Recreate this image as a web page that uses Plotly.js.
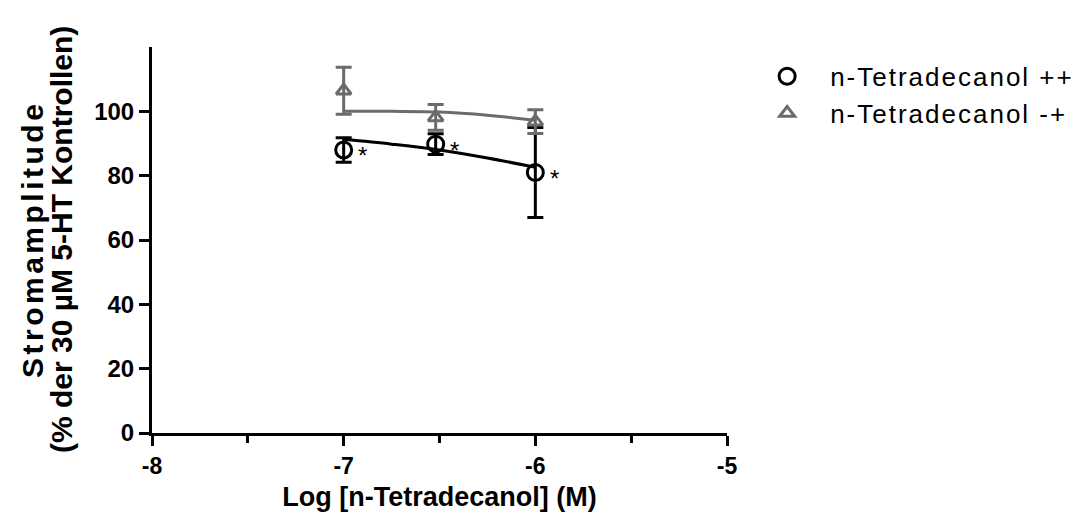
<!DOCTYPE html>
<html>
<head>
<meta charset="utf-8">
<script src="https://cdn.plot.ly/plotly-3.0.1.min.js"></script>
<style>html,body{margin:0;padding:0;background:#fff;}#chart{width:1090px;height:527px;}</style>
</head>
<body>
<div id="chart"></div>
<script>
// Data points (log concentration, M)
const logConc = [-7, -6.52, -6];
const ppMean = [88, 89.8, 81];
const ppErr = [3.8, 3.2, 14];
const pmMean = [106.4, 98.1, 96.8];
const pmErr = [7.3, 4, 3.7];
// Fitted curves
const curveX = [-7, -6.75, -6.5, -6.25, -6];
const ppCurve = [91.3, 89.8, 88, 85.5, 82.6];
const pmCurve = [100, 100, 99.8, 98.8, 97.2];
const seriesNames = ['n-Tetradecanol ++', 'n-Tetradecanol -+'];
const yTitleLines = ['Stromamplitude', '(% der 30 µM 5-HT Kontrollen)'];
const xTitle = 'Log [n-Tetradecanol] (M)';
const xTicks = [-8, -7, -6, -5];
const yTicks = [0, 20, 40, 60, 80, 100];

const black = '#000000';
const gray = '#6b6b6b';
const font = 'Liberation Sans, Arial, sans-serif';
const spaced = (t, px) => '<span style="letter-spacing:' + px + 'px">' + t + '</span>';

const traces = [
  {x: curveX, y: pmCurve, mode: 'lines', line: {color: gray, width: 3, shape: 'spline'}, showlegend: false, hoverinfo: 'skip'},
  {x: curveX, y: ppCurve, mode: 'lines', line: {color: black, width: 3, shape: 'spline'}, showlegend: false, hoverinfo: 'skip'},
  {x: logConc, y: ppMean, name: spaced(seriesNames[0], 2), mode: 'markers',
   marker: {symbol: 'circle-open', size: 16, color: black, line: {width: 3, color: black}},
   error_y: {type: 'data', array: ppErr, visible: true, color: black, thickness: 3, width: 8}},
  {x: logConc, y: pmMean, name: spaced(seriesNames[1], 2), mode: 'markers',
   marker: {symbol: 'triangle-up-open', size: 13, color: gray, line: {width: 3, color: gray}},
   error_y: {type: 'data', array: pmErr, visible: true, color: gray, thickness: 3, width: 8}}
];

const annotations = logConc.map((x, i) => ({
  x: x, y: ppMean[i], xref: 'x', yref: 'y', text: '*', showarrow: false,
  xshift: 19, yshift: -6, font: {family: font, size: 24, color: black}
}));
// Two-line y-axis title as rotated annotations
annotations.push({
  xref: 'paper', yref: 'paper', x: 0, y: 0.5, xanchor: 'center', yanchor: 'middle',
  xshift: -120, textangle: -90, showarrow: false, text: '<b>' + spaced(yTitleLines[0], 3.5) + '</b>',
  font: {family: font, size: 30, color: '#000'}
});
annotations.push({
  xref: 'paper', yref: 'paper', x: 0, y: 0.5, xanchor: 'center', yanchor: 'middle',
  xshift: -91, textangle: -90, showarrow: false, text: '<b>' + yTitleLines[1] + '</b>',
  font: {family: font, size: 30, color: '#000'}
});

const layout = {
  width: 1090, height: 527,
  margin: {l: 152, r: 362, t: 47, b: 94},
  paper_bgcolor: '#fff', plot_bgcolor: '#fff',
  font: {family: font, color: '#000'},
  showlegend: true,
  legend: {x: 1.028, y: 0.985, xanchor: 'left', yanchor: 'top', xref: 'paper',
           font: {family: font, size: 26, color: '#000'}, bgcolor: 'rgba(0,0,0,0)', itemwidth: 76},
  xaxis: {
    range: [-8, -5], tickvals: xTicks, ticktext: xTicks.map(String),
    showgrid: false, zeroline: false, showline: true, linecolor: '#000', linewidth: 3,
    ticks: 'outside', ticklen: 10, tickwidth: 3, tickcolor: '#000',
    minor: {dtick: 0.5, ticks: 'outside', ticklen: 7, tickwidth: 3, tickcolor: '#000', showgrid: false},
    tickfont: {family: font, size: 23, color: '#000', weight: 'bold'},
    title: {text: '<b>' + xTitle + '</b>', font: {family: font, size: 27, color: '#000'}, standoff: 10}
  },
  yaxis: {
    range: [0, 120], tickvals: yTicks, ticktext: yTicks.map(String),
    showgrid: false, zeroline: false, showline: true, linecolor: '#000', linewidth: 3,
    ticks: 'outside', ticklen: 10, tickwidth: 3, tickcolor: '#000',
    tickfont: {family: font, size: 24, color: '#000', weight: 'bold'}
  },
  annotations: annotations
};

Plotly.newPlot('chart', traces, layout, {displayModeBar: false, staticPlot: true});
</script>
</body>
</html>
